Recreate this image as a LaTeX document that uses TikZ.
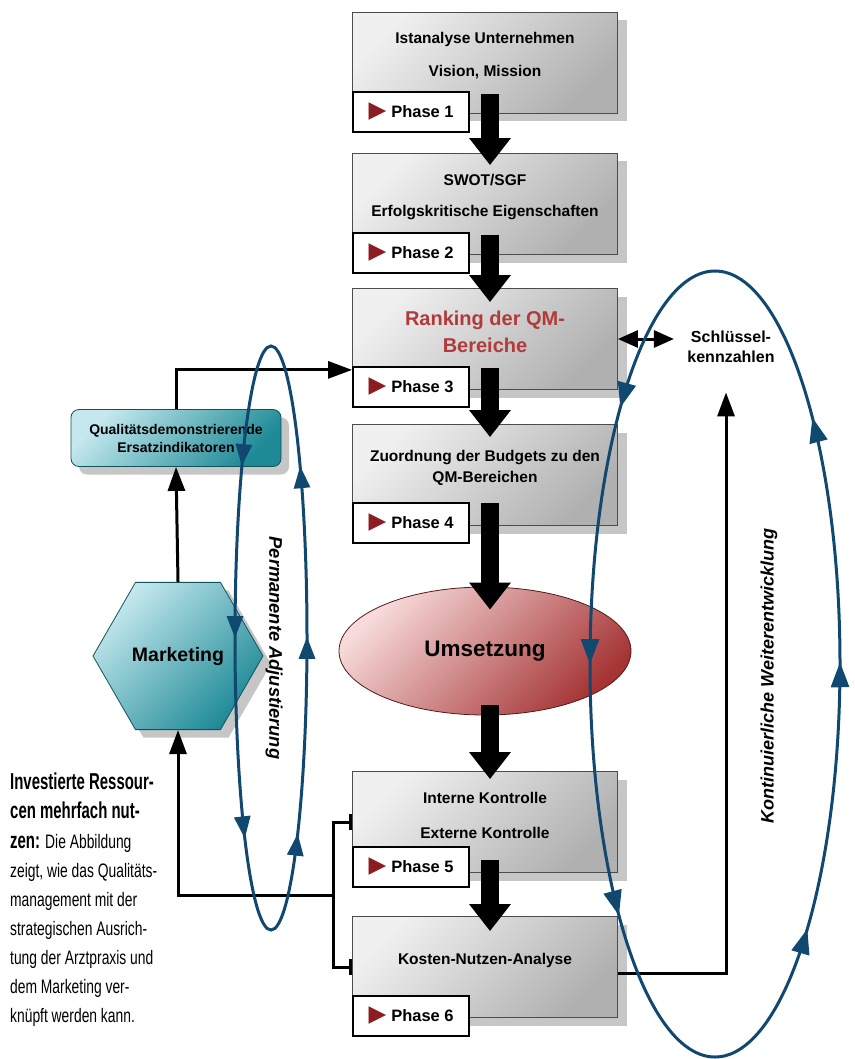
\documentclass[tikz,border=0pt]{standalone}
\usepackage{fontspec}
\setmainfont{Liberation Sans}
\newfontfamily\capfont[FakeStretch=0.71]{Liberation Sans}
\newfontfamily\capboldfont[FakeStretch=0.65]{Liberation Sans}
\newfontfamily\symfont{DejaVu Sans}
\usetikzlibrary{arrows.meta,shapes.geometric,shadows,decorations.markings,positioning}

\definecolor{qmred}{RGB}{178,58,58}
\definecolor{loopblue}{RGB}{16,72,112}
\definecolor{phasered}{RGB}{140,28,34}
\definecolor{tealdark}{RGB}{30,138,150}
\definecolor{teallight}{RGB}{196,232,238}
\definecolor{rosedark}{RGB}{165,52,52}
\definecolor{roselight}{RGB}{248,218,218}

\newcommand\phasetri{{\symfont\color{phasered}\fontsize{23}{23}\selectfont ▶}}
\newcommand\capbold[1]{{\capboldfont\bfseries\fontsize{23}{29.1}\selectfont #1}}

\tikzset{
  qmbox/.style={draw=gray!60!black, line width=0.8pt, top color=gray!12, bottom color=gray!62,
    shading angle=45, minimum width=265pt, minimum height=101pt, inner sep=0pt,
    general shadow={fill=gray!45, shadow xshift=9pt, shadow yshift=-8pt}},
  qmtext/.style={font=\bfseries\fontsize{15.5}{18.6}\selectfont, align=center},
  phase/.style={draw=black, line width=2pt, fill=white, minimum width=116pt,
    minimum height=40pt, inner sep=0pt, anchor=west, font=\bfseries\fontsize{16.5}{19}\selectfont},
  tealshape/.style={draw=tealdark!60!black, line width=0.8pt, top color=teallight, bottom color=tealdark,
    shading angle=45, general shadow={fill=gray!45, shadow xshift=8pt, shadow yshift=-8pt}},
  bigarrow/.style={line width=18pt, -{Triangle[width=40pt,length=27pt]}},
  link/.style={line width=3pt},
  linkarrow/.style={link, -{Triangle[width=17pt,length=24pt]}},
  loop/.style={draw=loopblue, line width=3pt, postaction=decorate}
}

\begin{document}
\begin{tikzpicture}[x=1pt, y=-1pt]
  \useasboundingbox (0,0) rectangle (854,1059);

  % phase boxes
  \node[qmbox] (box1) at (485,63) {};
  \node[qmbox] (box2) at (485,204) {};
  \node[qmbox] (box3) at (485,339) {};
  \node[qmbox] (box4) at (485,475) {};
  \node[qmbox] (box5) at (485,822) {};
  \node[qmbox] (box6) at (485,967) {};

  \node[qmtext] at ([yshift=7pt]box1.center) {Istanalyse Unternehmen\\[14.4pt]Vision, Mission};
  \node[qmtext] at ([yshift=7pt]box2.center) {SWOT/SGF\\[12.4pt]Erfolgskritische Eigenschaften};
  \node[qmtext, text=qmred, font=\bfseries\fontsize{20}{27}\selectfont] at ([yshift=7pt]box3.center) {Ranking der QM-\\Bereiche};
  \node[qmtext, font=\bfseries\fontsize{15.5}{21}\selectfont] at ([yshift=7pt]box4.center) {Zuordnung der Budgets zu den\\QM-Bereichen};
  \node[qmtext] at ([yshift=7pt]box5.center) {Interne Kontrolle\\[16.4pt]Externe Kontrolle};
  \node[qmtext] at ([yshift=7pt]box6.center) {Kosten-Nutzen-Analyse};

  % phase labels
  \node[phase] (ph1) at ([yshift=2pt]box1.south west) {\phasetri\hspace{5pt}Phase 1};
  \node[phase] (ph2) at ([yshift=2pt]box2.south west) {\phasetri\hspace{5pt}Phase 2};
  \node[phase] (ph3) at ([yshift=3pt]box3.south west) {\phasetri\hspace{5pt}Phase 3};
  \node[phase] (ph4) at ([yshift=3pt]box4.south west) {\phasetri\hspace{5pt}Phase 4};
  \node[phase] (ph5) at ([yshift=6pt]box5.south west) {\phasetri\hspace{5pt}Phase 5};
  \node[phase] (ph6) at ([yshift=2pt]box6.south west) {\phasetri\hspace{5pt}Phase 6};

  \node[ellipse, draw=rosedark!50!black, line width=0.8pt, top color=roselight, bottom color=rosedark,
    shading angle=45, minimum width=292pt, minimum height=128pt,
    font=\bfseries\fontsize{22.5}{26}\selectfont] (ums) at (485,651) {Umsetzung};

  \node[tealshape, rounded corners=8pt, minimum width=210pt, minimum height=57pt, align=center,
    font=\bfseries\fontsize{14}{18}\selectfont] (ersatz) at (176,438) {Qualitätsdemonstrierende\\Ersatzindikatoren};
  \node[tealshape, regular polygon, regular polygon sides=6, minimum size=170pt, inner sep=0pt,
    font=\bfseries\fontsize{19.5}{22}\selectfont] (mkt) at (178,656) {Marketing};

  \node[font=\bfseries\fontsize{16}{20}\selectfont, align=center] (kpi) at (731,347) {Schlüssel-\\kennzahlen};
  \coordinate (fork) at (333,895);

  % main flow
  \draw[bigarrow] ([xshift=5pt,yshift=20pt]box1.south) -- ([xshift=5pt,yshift=-12pt]box2.north);
  \draw[bigarrow] ([xshift=5pt,yshift=20pt]box2.south) -- ([xshift=5pt,yshift=-14pt]box3.north);
  \draw[bigarrow] ([xshift=5pt,yshift=22pt]box3.south) -- ([xshift=5pt,yshift=-13pt]box4.north);
  \draw[bigarrow] ([xshift=5pt,yshift=23pt]box4.south) -- ([xshift=5pt,yshift=-23pt]ums.north);
  \draw[bigarrow] ([xshift=5pt,yshift=10pt]ums.south) -- ([xshift=5pt,yshift=-8pt]box5.north);
  \draw[bigarrow] ([xshift=5pt,yshift=13pt]box5.south) -- ([xshift=5pt,yshift=-15pt]box6.north);

  % side links
  \draw[linkarrow] (ersatz.north) |- ([yshift=20pt]box3.south west);
  \draw[linkarrow] (mkt.north) -- (ersatz.south);
  \draw[linkarrow] (fork) -| (mkt.south);
  \draw[link, {Bar[width=16pt]}-{Bar[width=16pt]}] (box5.west) -| (fork) |- (box6.west);
  \draw[link, shorten >=10pt, {Triangle[width=17pt,length=20pt]}-{Triangle[width=17pt,length=20pt]}] (box3.east) -- (box3.east -| kpi.west);
  \draw[linkarrow] ([yshift=-6pt]box6.east) -| ([xshift=-5pt,yshift=-26pt]kpi.south);

  % loops
  \draw[loop, decoration={markings,
      mark=at position 0.001 with {\arrow{Triangle[width=16pt,length=22pt]}},
      mark=at position 0.144 with {\arrow{Triangle[width=16pt,length=22pt]}},
      mark=at position 0.356 with {\arrow{Triangle[width=16pt,length=22pt]}},
      mark=at position 0.5 with {\arrow{Triangle[width=16pt,length=22pt]}},
      mark=at position 0.668 with {\arrow{Triangle[width=16pt,length=22pt]}},
      mark=at position 0.836 with {\arrow{Triangle[width=16pt,length=22pt]}}}]
    (271,638) ellipse [x radius=36pt, y radius=292pt];
  \draw[loop, decoration={markings,
      mark=at position 0.001 with {\arrow{Triangle[width=18pt,length=25pt]}},
      mark=at position 0.143 with {\arrow{Triangle[width=18pt,length=25pt]}},
      mark=at position 0.351 with {\arrow{Triangle[width=18pt,length=25pt]}},
      mark=at position 0.5 with {\arrow{Triangle[width=18pt,length=25pt]}},
      mark=at position 0.646 with {\arrow{Triangle[width=18pt,length=25pt]}},
      mark=at position 0.846 with {\arrow{Triangle[width=18pt,length=25pt]}}}]
    (715,664) ellipse [x radius=125pt, y radius=393pt];

  \node[rotate=-90, font=\bfseries\itshape\fontsize{18.3}{21}\selectfont] (perm) at (274,648) {Permanente Adjustierung};
  \node[rotate=90, font=\bfseries\itshape\fontsize{18}{21}\selectfont] (kont) at (769,676) {Kontinuierliche Weiterentwicklung};

  % caption
  \node[anchor=north west, align=left, inner sep=0pt, font=\capfont\fontsize{19.5}{29.1}\selectfont] (note) at (10,773)
    {\capbold{Investierte Ressour-}\\
     \capbold{cen mehrfach nut-}\\
     \capbold{zen:} Die Abbildung\\
     zeigt, wie das Qualitäts-\\
     management mit der\\
     strategischen Ausrich-\\
     tung der Arztpraxis und\\
     dem Marketing ver-\\
     knüpft werden kann.};
\end{tikzpicture}
\end{document}
